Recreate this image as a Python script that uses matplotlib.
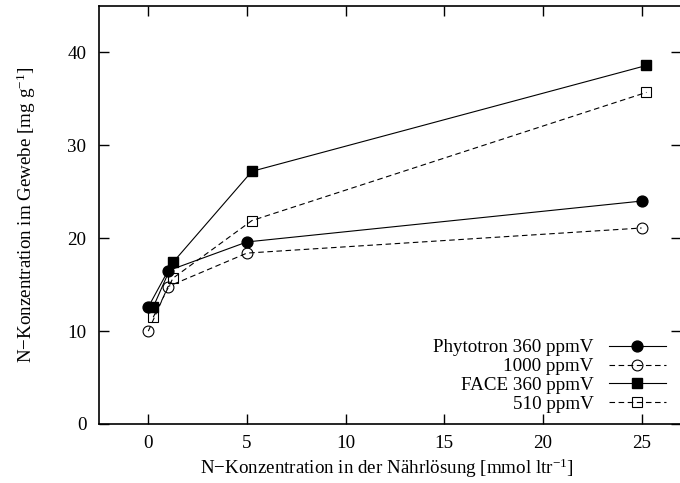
""" N-Konzentration im Gewebe vs. N-Konzentration in der Naehrloesung
    gnuplot-like line chart with four series """

import matplotlib
matplotlib.use('Agg')
import matplotlib.pyplot as plt

plt.rcParams['font.family'] = ['Liberation Serif', 'DejaVu Serif']
plt.rcParams['mathtext.fontset'] = 'custom'
plt.rcParams['mathtext.rm'] = 'Liberation Serif'
plt.rcParams['mathtext.it'] = 'Liberation Serif:italic'
plt.rcParams['font.size'] = 13.7

# data
phyto_x = [0, 1, 5, 25]
phyto_360 = [12.6, 16.5, 19.6, 24.0]
phyto_1000 = [10.0, 14.8, 18.4, 21.1]

face_x = [0.25, 1.25, 5.25, 25.25]
face_360 = [12.6, 17.4, 27.2, 38.6]
face_510 = [11.5, 15.7, 21.9, 35.7]

labels = ['Phytotron 360 ppmV', '1000 ppmV', 'FACE 360 ppmV', '510 ppmV']
x_ticks = [0, 5, 10, 15, 20, 25]
y_ticks = [0, 10, 20, 30, 40]


def set_up_fig_axs():
    """ figure of 680x483 px, axes placed like the gnuplot original """
    fig = plt.figure(figsize=(6.8, 4.83), dpi=100)
    ax = fig.add_axes([99 / 680, 59 / 483, 582 / 680, 418 / 483])
    ax.set_xlim(-2.5, 27.0)
    ax.set_ylim(0, 45)
    return fig, ax


fig, ax = set_up_fig_axs()

dash = (0, (5.0, 3.2))
lw = 0.8
ms = 7.8
ax.plot(phyto_x, phyto_360, '-', color='black', lw=lw, marker='o', ms=ms,
        mfc='black', mec='black', label=labels[0])
ax.plot(phyto_x, phyto_1000, linestyle=dash, color='black', lw=lw, marker='o',
        ms=ms, mfc='none', mec='black', mew=0.8, label=labels[1])
ax.plot(face_x, face_360, '-', color='black', lw=lw, marker='s', ms=ms,
        mfc='black', mec='black', label=labels[2])
ax.plot(face_x, face_510, linestyle=dash, color='black', lw=lw, marker='s',
        ms=ms, mfc='none', mec='black', mew=0.8, label=labels[3])

ax.set_xticks(x_ticks)
ax.set_yticks(y_ticks)
ax.tick_params(direction='in', length=7, width=1, top=True, right=True)
ax.tick_params(axis='y', pad=9)
ax.tick_params(axis='x', pad=8)
for sp in ax.spines.values():
    sp.set_linewidth(1.2)

ax.set_xlabel('N\u2212Konzentration in der Nährlösung [mmol ltr$^{-1}$]', va='center')
ax.set_ylabel('N\u2212Konzentration im Gewebe [mg g$^{-1}$]', va='center')
ax.xaxis.set_label_coords(0.4948, -0.107, transform=ax.transAxes)
ax.yaxis.set_label_coords(-0.125, 0.5, transform=ax.transAxes)

leg = ax.legend(loc='lower right', bbox_to_anchor=(666 / 680, 70 / 483),
                bbox_transform=fig.transFigure, frameon=False, markerfirst=False,
                handlelength=3.0, handletextpad=0.8, labelspacing=0.08,
                borderpad=0, borderaxespad=0)

fig.savefig('out.png', dpi=100)
